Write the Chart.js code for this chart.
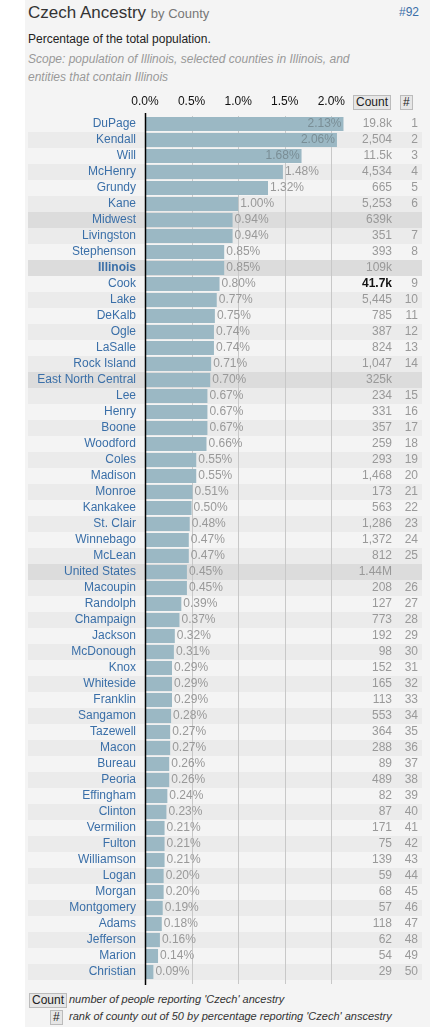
<!DOCTYPE html>
<html><head><meta charset="utf-8">
<script src="https://cdn.jsdelivr.net/npm/chart.js@4/dist/chart.umd.min.js"></script>
<style>
body{margin:0;background:#fff;font-family:"Liberation Sans",Arial,sans-serif;}
#wrap{position:absolute;left:25px;top:0;width:405px;height:1027px;background:#f4f4f4;}
.abs{position:absolute;white-space:nowrap;}
.box{border:1px solid #bbb;background:#e6e6e6;color:#222;font-size:12px;padding:0 2px;line-height:13px;}
#chartBox{position:absolute;left:0;top:90px;width:432px;height:895px;}
</style></head><body>
<div id="wrap"></div>
<div class="abs" style="left:28px;top:3px;font-size:17px;color:#333;">Czech Ancestry <span style="font-size:13px;color:#777">by County</span></div>
<div class="abs" style="left:399px;top:5px;font-size:12px;color:#3a6fa8;">#92</div>
<div class="abs" style="left:28px;top:32px;font-size:12px;color:#222;">Percentage of the total population.</div>
<div class="abs" style="left:28px;top:50px;font-size:12px;color:#999;font-style:italic;line-height:18px;">Scope: population of Illinois, selected counties in Illinois, and<br>entities that contain Illinois</div>
<div id="chartBox"><canvas id="c"></canvas></div>
<div class="abs box" style="left:353px;top:95px;font-size:12px;">Count</div>
<div class="abs box" style="left:400px;top:95px;font-size:12px;">#</div>
<div class="abs box" style="left:29px;top:993px;">Count</div>
<div class="abs" style="left:69px;top:993px;font-size:11px;font-style:italic;color:#333;">number of people reporting 'Czech' ancestry</div>
<div class="abs box" style="left:50px;top:1010px;">#</div>
<div class="abs" style="left:69px;top:1010px;font-size:11px;font-style:italic;color:#333;">rank of county out of 50 by percentage reporting 'Czech' anscestry</div>
<script>
const names = ["DuPage","Kendall","Will","McHenry","Grundy","Kane","Midwest","Livingston","Stephenson","Illinois","Cook","Lake","DeKalb","Ogle","LaSalle","Rock Island","East North Central","Lee","Henry","Boone","Woodford","Coles","Madison","Monroe","Kankakee","St. Clair","Winnebago","McLean","United States","Macoupin","Randolph","Champaign","Jackson","McDonough","Knox","Whiteside","Franklin","Sangamon","Tazewell","Macon","Bureau","Peoria","Effingham","Clinton","Vermilion","Fulton","Williamson","Logan","Morgan","Montgomery","Adams","Jefferson","Marion","Christian"];
const percents = [2.13,2.06,1.68,1.48,1.32,1.00,0.94,0.94,0.85,0.85,0.80,0.77,0.75,0.74,0.74,0.71,0.70,0.67,0.67,0.67,0.66,0.55,0.55,0.51,0.50,0.48,0.47,0.47,0.45,0.45,0.39,0.37,0.32,0.31,0.29,0.29,0.29,0.28,0.27,0.27,0.26,0.26,0.24,0.23,0.21,0.21,0.21,0.20,0.20,0.19,0.18,0.16,0.14,0.09];
const counts = ["19.8k","2,504","11.5k","4,534","665","5,253","639k","351","393","109k","41.7k","5,445","785","387","824","1,047","325k","234","331","357","259","293","1,468","173","563","1,286","1,372","812","1.44M","208","127","773","192","98","152","165","113","553","364","288","89","489","82","87","171","75","139","59","68","57","118","62","54","29"];
const ranks = [1,2,3,4,5,6,"",7,8,"",9,10,11,12,13,14,"",15,16,17,18,19,20,21,22,23,24,25,"",26,27,28,29,30,31,32,33,34,35,36,37,38,39,40,41,42,43,44,45,46,47,48,49,50];
const tickValues = [0, 0.5, 1, 1.5, 2];
const tickLabels = ["0.0%","0.5%","1.0%","1.5%","2.0%"];
const highlighted = ["Midwest","Illinois","East North Central","United States"];

const font = '"Liberation Sans", Arial, sans-serif';

const rowsPlugin = {
  id: "rows",
  beforeDatasetsDraw(chart) {
    const { ctx, chartArea, scales: { x, y } } = chart;
    const h = y.getPixelForValue(1) - y.getPixelForValue(0);
    names.forEach((n, i) => {
      const py = y.getPixelForValue(i);
      let fill = i % 2 ? "#ebebeb" : "#f4f4f4";
      if (highlighted.includes(n)) fill = "#dcdcdc";
      ctx.fillStyle = fill;
      ctx.fillRect(28, py - h / 2, 394, h);
    });
    ctx.strokeStyle = "#c8c8c8";
    ctx.lineWidth = 1;
    tickValues.slice(1).forEach((v) => {
      const px = Math.round(x.getPixelForValue(v)) + 0.5;
      ctx.beginPath(); ctx.moveTo(px, chartArea.top); ctx.lineTo(px, chartArea.bottom + 4); ctx.stroke();
    });
    // top tick labels
    ctx.font = "12px " + font;
    ctx.fillStyle = "#111";
    ctx.textAlign = "center";
    ctx.textBaseline = "middle";
    tickValues.forEach((v, i) => ctx.fillText(tickLabels[i], x.getPixelForValue(v), chartArea.top - 14));
    // row labels
    ctx.textAlign = "right";
    ctx.fillStyle = "#3a6fa8";
    names.forEach((n, i) => {
      ctx.font = (n === "Illinois" ? "bold " : "") + "12px " + font;
      ctx.fillText(n, 136, y.getPixelForValue(i));
    });
  },
  afterDatasetsDraw(chart) {
    const { ctx, chartArea, scales: { x, y } } = chart;
    ctx.textBaseline = "middle";
    percents.forEach((v, i) => {
      const py = y.getPixelForValue(i);
      const px = x.getPixelForValue(v);
      const label = v.toFixed(2) + "%";
      ctx.font = "12px " + font;
      if (v > 1.6) { ctx.textAlign = "right"; ctx.fillStyle = "#7a8e96"; ctx.fillText(label, px - 2, py); }
      else { ctx.textAlign = "left"; ctx.fillStyle = "#999"; ctx.fillText(label, px + 2, py); }
      ctx.textAlign = "right";
      const bold = names[i] === "Cook";
      ctx.font = (bold ? "bold " : "") + "12px " + font;
      ctx.fillStyle = bold ? "#111" : "#999";
      ctx.fillText(counts[i], 392, py);
      ctx.font = "12px " + font;
      ctx.fillStyle = "#999";
      ctx.fillText(String(ranks[i]), 418, py);
    });
    const zx = Math.round(x.getPixelForValue(0)) + 0.5;
    ctx.strokeStyle = "#000"; ctx.lineWidth = 1.5;
    ctx.beginPath(); ctx.moveTo(zx, chartArea.top - 3); ctx.lineTo(zx, chartArea.bottom + 5); ctx.stroke();
  }
};

new Chart(document.getElementById("c"), {
  type: "bar",
  data: {
    labels: names,
    datasets: [{ data: percents, backgroundColor: "#9bb8c4", barPercentage: 0.88, categoryPercentage: 1 }]
  },
  options: {
    indexAxis: "y",
    responsive: true,
    maintainAspectRatio: false,
    animation: false,
    devicePixelRatio: 1,
    layout: { padding: { right: 82, bottom: 5 } },
    plugins: { legend: { display: false }, tooltip: { enabled: false } },
    scales: {
      x: {
        position: "top", min: 0, max: 2.2,
        afterFit: (s) => { s.height = 26; },
        grid: { display: false },
        border: { display: false },
        ticks: { display: false, stepSize: 0.5 }
      },
      y: {
        afterFit: (s) => { s.width = 145; },
        grid: { display: false },
        border: { display: false },
        ticks: { display: false, autoSkip: false }
      }
    }
  },
  plugins: [rowsPlugin]
});
</script>
</body></html>
